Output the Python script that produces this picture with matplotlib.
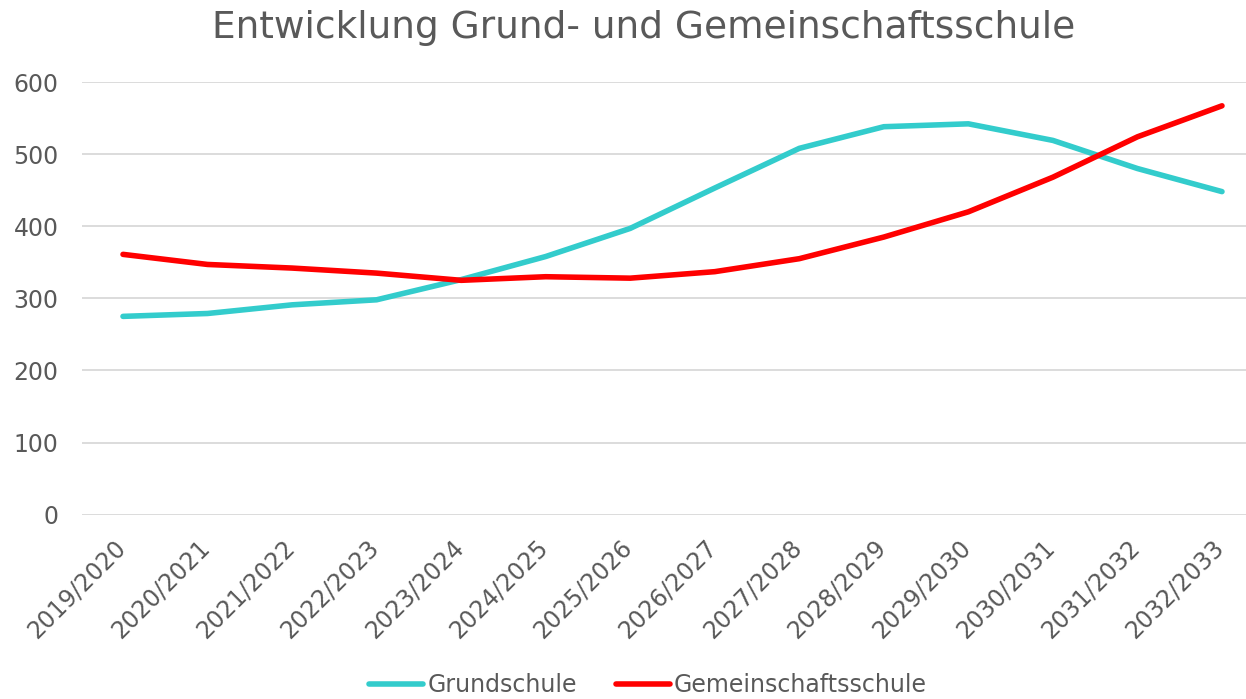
import matplotlib
matplotlib.use("Agg")
import matplotlib.pyplot as plt
from matplotlib.transforms import ScaledTranslation

# ---- data -------------------------------------------------------------------
years = ["2019/2020", "2020/2021", "2021/2022", "2022/2023", "2023/2024",
         "2024/2025", "2025/2026", "2026/2027", "2027/2028", "2028/2029",
         "2029/2030", "2030/2031", "2031/2032", "2032/2033"]
grundschule = [275, 279, 291, 298, 326, 358, 397, 453, 508, 538, 542, 519, 480, 448]
gemeinschaftsschule = [361, 347, 342, 335, 325, 330, 328, 337, 355, 385, 420, 468, 524, 567]

TEXT = "#595959"; GRID = "#D9D9D9"; CYAN = "#33CCCC"; RED = "#FF0000"

W, H = 1246, 699
fig = plt.figure(figsize=(W / 100, H / 100), dpi=100)
ax = fig.add_axes([82 / W, (H - 514.7) / H, 1164 / W, 432.7 / H])

x = list(range(len(years)))
for vals, col, lab in [(grundschule, CYAN, "Grundschule"),
                       (gemeinschaftsschule, RED, "Gemeinschaftsschule")]:
    ax.plot(x, vals, color=col, lw=4, label=lab,
            solid_capstyle="round", solid_joinstyle="round")

ax.set_xlim(-0.485, 13.284)
ax.set_ylim(0, 600)
ax.set_yticks(range(0, 601, 100))
ax.set_xticks(x)
ax.set_xticklabels(years, rotation=45, ha="right", rotation_mode="anchor")
ax.grid(axis="y", color=GRID, lw=1.3)
ax.set_axisbelow(True)
for s in ax.spines.values():
    s.set_visible(False)
ax.tick_params(length=0, colors=TEXT, labelsize=17)
ax.tick_params(axis="y", pad=17)
ax.tick_params(axis="x", pad=10)
shift = ScaledTranslation(-10 / 100, -7 / 100, fig.dpi_scale_trans)
for lbl in ax.get_xticklabels():
    lbl.set_transform(lbl.get_transform() + shift)

fig.text(644 / W, 1 - 28 / H, "Entwicklung Grund- und Gemeinschaftsschule",
         ha="center", va="center", color=TEXT, fontsize=27)

fig.legend(loc="center", bbox_to_anchor=(648 / W, 1 - 685 / H), ncol=2,
           frameon=False, fontsize=17, labelcolor=TEXT, handlelength=2.3,
           handletextpad=0.17, columnspacing=1.65)

fig.savefig("out.png", dpi=100)
